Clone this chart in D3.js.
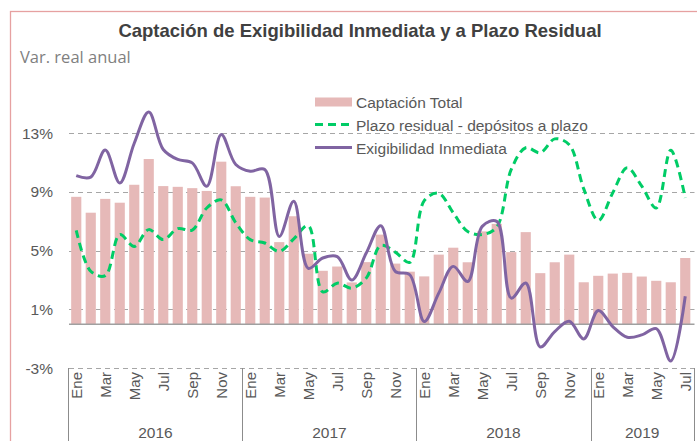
<!DOCTYPE html>
<meta charset="utf-8">
<html>
  <head>
    <style>
      body { margin: 0; background: #fff; }
      text { font-family: "Liberation Sans", Arial, sans-serif; fill: #595959; }
      text.title { font-family: "Liberation Sans Narrow", "Arial Narrow", sans-serif; font-weight: bold; font-size: 18.5px; fill: #404040; }
      text.subtitle { font-family: "Open Sans", Lato, sans-serif; font-size: 16.5px; fill: #7f7f7f; }
      text.tick { font-size: 15.5px; }
      text.legend { font-size: 15.5px; }
      line.grid { stroke: #a6a6a6; stroke-dasharray: 5,4; stroke-width: 1; }
    </style>
    <script src="https://d3js.org/d3.v7.min.js"></script>
  </head>
  <body>
    <div id="chart"></div>
    <script type="text/javascript">
      var years = ["2016", "2017", "2018", "2019"],
          monthNames = ["Ene", "Feb", "Mar", "Abr", "May", "Jun", "Jul", "Ago", "Sep", "Oct", "Nov", "Dic"],
          yTicks = [-3, 1, 5, 9, 13];

      // Captación Total (bars)
      var captacion = [
        8.66, 7.58, 8.52, 8.26, 9.48, 11.23, 9.39, 9.34, 9.25, 9.06, 11.05, 9.38,
        8.66, 8.61, 5.58, 7.34, 4.79, 3.63, 3.92, 2.84, 4.22, 6.09, 4.12, 3.57,
        3.25, 4.73, 5.2, 4.21, 6.31, 6.82, 4.9, 6.26, 3.47, 4.21, 4.73, 2.85,
        3.29, 3.44, 3.49, 3.24, 2.95, 2.85, 4.5
      ];
      // Plazo residual - depósitos a plazo (dashed green)
      var plazo = [
        6.38, 3.6, 3.3, 6.09, 5.29, 6.43, 5.75, 6.5, 6.4, 7.9, 8.45, 6.9,
        5.75, 5.52, 4.95, 5.8, 6.7, 2.2, 2.79, 2.45, 3.13, 5.35, 4.9, 4.2,
        8.4, 8.9, 7.57, 6.3, 6.1, 6.6, 10.52, 12.0, 11.66, 12.6, 12.2, 9.2,
        7.05, 8.93, 10.63, 9.38, 7.9, 11.83, 8.59
      ];
      // Exigibilidad Inmediata (purple)
      var exigibilidad = [
        10.1, 10.0, 11.84, 9.6, 12.3, 14.43, 11.88, 11.2, 10.97, 9.38, 12.9, 10.86,
        10.4, 10.52, 5.97, 8.36, 3.8, 4.5, 4.6, 3.0, 4.84, 6.7, 3.59, 3.36,
        0.18, 2.11, 3.93, 2.9, 6.65, 6.99, 1.77, 2.8, -1.55, -0.5, 0.2, -1.0,
        0.93, -0.16, -0.89, -0.73, -0.3, -2.5, 1.9
      ];

      var width = 697, height = 441,
          plotLeft = 69, plotRight = 692.5;

      var n = captacion.length;
      var months = d3.range(n);

      var svg = d3.select("#chart").append("svg")
          .attr("width", width)
          .attr("height", height);

      // chart frame
      svg.append("rect")
          .attr("x", 10.5).attr("y", 11.5)
          .attr("width", width).attr("height", height)
          .style("fill", "none")
          .style("stroke", "#e6a1a1")
          .style("stroke-width", 1.3);

      svg.append("text")
          .attr("class", "title")
          .attr("x", 360).attr("y", 37)
          .style("text-anchor", "middle")
          .text("Captación de Exigibilidad Inmediata y a Plazo Residual");

      svg.append("text")
          .attr("class", "subtitle")
          .attr("x", 20).attr("y", 63)
          .text("Var. real anual");

      var x = d3.scaleBand()
          .domain(months)
          .range([plotLeft, plotRight])
          .paddingInner(0.3)
          .paddingOuter(0.15);

      var y = d3.scaleLinear()
          .domain([-3, 13])
          .range([368.3, 133]);

      var cx = function(i) { return x(i) + x.bandwidth() / 2; };

      // gridlines
      svg.selectAll(".grid")
          .data(yTicks)
          .enter().append("line")
            .attr("class", "grid")
            .attr("x1", plotLeft).attr("x2", plotRight + 2)
            .attr("y1", function(d) { return Math.round(y(d)) + 0.5; })
            .attr("y2", function(d) { return Math.round(y(d)) + 0.5; });

      svg.selectAll(".ylabel")
          .data(yTicks)
          .enter().append("text")
            .attr("class", "tick")
            .attr("x", 53)
            .attr("y", function(d) { return y(d) + 5.5; })
            .style("text-anchor", "end")
            .text(function(d) { return d + "%"; });

      // bars
      svg.selectAll(".bar")
          .data(captacion)
          .enter().append("rect")
            .attr("class", "bar")
            .attr("x", function(d, i) { return x(i); })
            .attr("width", x.bandwidth())
            .attr("y", function(d) { return y(Math.max(0, d)); })
            .attr("height", function(d) { return Math.abs(y(d) - y(0)); })
            .style("fill", "#e6b9b8");

      // zero axis line
      svg.append("line")
          .attr("x1", plotLeft).attr("x2", plotRight + 2)
          .attr("y1", y(0)).attr("y2", y(0))
          .style("stroke", "#a0a0a0")
          .style("stroke-width", 1.5);

      var line = d3.line()
          .x(function(d, i) { return cx(i); })
          .y(function(d) { return y(d); })
          .curve(d3.curveCatmullRom.alpha(0.5));

      svg.append("path")
          .datum(plazo)
          .attr("d", line)
          .style("fill", "none")
          .style("stroke", "#00cc66")
          .style("stroke-width", 3)
          .style("stroke-dasharray", "8,5");

      svg.append("path")
          .datum(exigibilidad)
          .attr("d", line)
          .style("fill", "none")
          .style("stroke", "#8064a2")
          .style("stroke-width", 3);

      // category axis: months + years
      svg.selectAll(".mlabel")
          .data(months.filter(function(i) { return i % 2 === 0; }))
          .enter().append("text")
            .attr("class", "tick")
            .style("font-size", "15px")
            .attr("transform", function(i) { return "translate(" + (cx(i) + 5.5) + ",372) rotate(-90)"; })
            .style("text-anchor", "end")
            .text(function(i) { return monthNames[i % 12]; });

      var yearStarts = years.map(function(d, k) { return k * 12; });
      var sepX = yearStarts.map(function(i) { return x(i) - x.step() * x.paddingInner() / 2 - 0.5; });
      sepX.push(plotRight + 1.5);

      svg.selectAll(".ysep")
          .data(sepX)
          .enter().append("line")
            .attr("x1", function(d) { return Math.round(d) + 0.5; })
            .attr("x2", function(d) { return Math.round(d) + 0.5; })
            .attr("y1", 368).attr("y2", height)
            .style("stroke", "#8c8c8c")
            .style("stroke-width", 1);

      svg.selectAll(".yearlabel")
          .data(years)
          .enter().append("text")
            .attr("class", "tick")
            .attr("x", function(d, k) { return (sepX[k] + sepX[k + 1]) / 2; })
            .attr("y", 438)
            .style("text-anchor", "middle")
            .text(function(d) { return d; });

      // legend
      var legend = svg.append("g").attr("transform", "translate(315,0)");

      legend.append("rect")
          .attr("x", 0).attr("y", 97.5)
          .attr("width", 37).attr("height", 9)
          .style("fill", "#e6b9b8");
      legend.append("line")
          .attr("x1", 0).attr("x2", 37).attr("y1", 124.5).attr("y2", 124.5)
          .style("stroke", "#00cc66").style("stroke-width", 3).style("stroke-dasharray", "8,5");
      legend.append("line")
          .attr("x1", 0).attr("x2", 37).attr("y1", 147.5).attr("y2", 147.5)
          .style("stroke", "#8064a2").style("stroke-width", 3);

      legend.selectAll(".legend")
          .data(["Captación Total", "Plazo residual - depósitos a plazo", "Exigibilidad Inmediata"])
          .enter().append("text")
            .attr("class", "legend")
            .attr("x", 41)
            .attr("y", function(d, i) { return 107.5 + i * 23; })
            .text(function(d) { return d; });
    </script>
  </body>
</html>
